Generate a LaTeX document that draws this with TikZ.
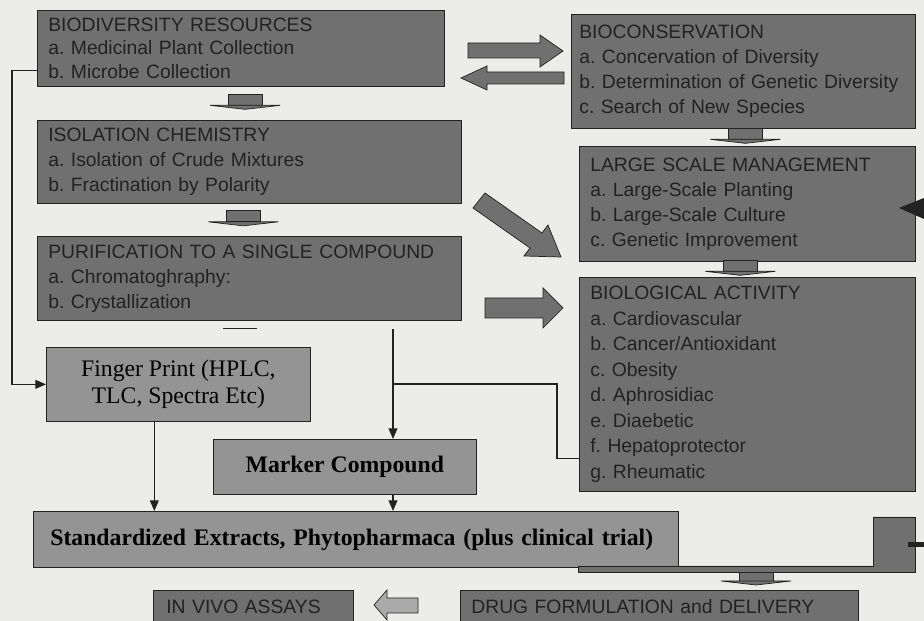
\documentclass[tikz,border=0pt]{standalone}
\usepackage{fontspec}
\setmainfont{Liberation Serif}
\setsansfont{Liberation Sans}
\usetikzlibrary{
    arrows.meta,
    calc,
    positioning
}

\definecolor{paper}{RGB}{236,236,234}
\definecolor{boxdark}{RGB}{112,112,112}
\definecolor{boxlight}{RGB}{148,148,148}
\definecolor{arrowlight}{RGB}{170,170,170}
\definecolor{ink}{RGB}{34,34,34}

\tikzset{
    panel/.style={draw=ink, fill=boxdark, text=ink, anchor=north west, align=left,
        inner xsep=0.22cm, inner ysep=0pt, font=\sffamily\frenchspacing\fontsize{11}{14.2}\selectfont},
    plate/.style={draw=ink, fill=boxlight, text=black, anchor=north west, align=center,
        inner sep=0pt, font=\bfseries\fontsize{13.5}{15.5}\selectfont},
    link/.style={draw=ink, semithick, -{Triangle[length=6pt,width=5pt]}},
    wire/.style={draw=ink, semithick},
    fat/.style={draw=ink, fill=boxdark, line join=miter},
    flatdown/.pic={
        \draw[fat] (-17,-9) rectangle (17,2);
        \draw[fat] (-35,2) -- (35,2) -- (0,6) -- cycle;
    }
}

\begin{document}
\begin{tikzpicture}[x=0.02cm,y=-0.02cm]

% Page
\useasboundingbox (0,0) rectangle (924,621);
\fill[paper] (0,0) rectangle (924,621);

% Left column
\node[panel, text width=7.70cm, minimum height=1.52cm, font=\sffamily\frenchspacing\fontsize{11}{13.4}\selectfont] (bio) at (37,10)
    {BIODIVERSITY RESOURCES\\a. Medicinal Plant Collection\\b. Microbe Collection};
\node[panel, text width=8.04cm, minimum height=1.66cm] (iso) at (37,120)
    {ISOLATION CHEMISTRY\\a. Isolation of Crude Mixtures\\b. Fractination by Polarity};
\node[panel, text width=8.04cm, minimum height=1.68cm] (pur) at (37,236)
    {PURIFICATION TO A SINGLE COMPOUND\\a. Chromatoghraphy:\\b. Crystallization};

% Right column
\node[panel, text width=6.56cm, inner xsep=0.16cm, minimum height=2.28cm] (cons) at (571,14)
    {BIOCONSERVATION\\a. Concervation of Diversity\\b. Determination of Genetic Diversity\\c. Search of New Species};
\node[panel, text width=6.28cm, minimum height=2.30cm] (large) at (579,146)
    {LARGE SCALE MANAGEMENT\\a. Large-Scale Planting\\b. Large-Scale Culture\\c. Genetic Improvement};
\node[panel, text width=6.28cm, minimum height=4.28cm, font=\sffamily\frenchspacing\fontsize{11}{14.5}\selectfont] (bioact) at (579,277)
    {BIOLOGICAL ACTIVITY\\a. Cardiovascular\\b. Cancer/Antioxidant\\c. Obesity\\d. Aphrosidiac\\e. Diaebetic\\f. Hepatoprotector\\g. Rheumatic};

% Standardization
\node[plate, minimum width=5.28cm, minimum height=1.48cm, font=\fontsize{13.5}{15.5}\selectfont] (finger) at (46,347)
    {Finger Print (HPLC,\\TLC, Spectra Etc)};
\node[plate, minimum width=5.26cm, minimum height=1.10cm] (marker) at (213,439) {Marker Compound};
\node[plate, text width=12.22cm, inner xsep=0.34cm, minimum height=1.12cm, align=left] (std) at (33,511)
    {Standardized Extracts, Phytopharmaca (plus clinical trial)};

% Bottom row
\node[panel, text width=3.48cm, minimum height=0.64cm, inner xsep=0.26cm] (invivo) at (153,590) {IN VIVO ASSAYS};
\node[panel, text width=7.52cm, minimum height=0.64cm] (drug) at (460,590) {DRUG FORMULATION and DELIVERY};

% Flat down arrows
\path ($(bio.south)!.5!(iso.north)$) pic {flatdown};
\path ($(iso.south)!.5!(pur.north)$) ++(-6,0) pic {flatdown};
\path ($(cons.south)!.5!(large.north)$) pic {flatdown};
\path ($(large.south)!.5!(bioact.north)$) ++(-7,0) pic {flatdown};
\path (756,579) pic {flatdown};
\draw[wire] ($(pur.south)+(-26,8)$) -- ++(34,0);

% Block arrows
\draw[fat] (468,43) -- (540,43) -- (540,35) -- (563,51) -- (540,67) -- (540,58) -- (468,58) -- cycle;
\draw[fat] (564,72) -- (487,72) -- (487,66) -- (461,78) -- (487,90) -- (487,84) -- (564,84) -- cycle;
\draw[fat] (485,193) -- (542,233) -- (548,225) -- (561,257) -- (524,256) -- (530,248) -- (473,208) -- cycle;
\draw[fat] (485,298) -- (543,298) -- (543,288) -- (563,308) -- (543,328) -- (543,318) -- (485,318) -- cycle;
\draw[fat, fill=arrowlight] (418,598) -- (387,598) -- (387,590) -- (374,605) -- (387,620) -- (387,613) -- (418,613) -- cycle;

% Cropped return path on the right
\draw[fat] (578,566) -- (873,566) -- (873,517) -- (915,517) -- (915,572) -- (578,572) -- cycle;
\draw[ink, line width=0.1cm] (908,545) -- (924,545);
\fill[ink] (899,208) -- (924,198) -- (924,219) -- cycle;

% Connectors
\draw[link] ($(bio.south west)+(0,-16)$) -- ++(-25,0) |- (finger.west);
\coordinate (split) at (393,329);
\draw[link] (split) -- (split |- marker.north);
\coordinate (tee) at (393,384);
\draw[wire] (tee) -| ($(bioact.west)+(-22,74)$) -- ++(22,0);
\draw[link] (finger.south) ++(-24,0) coordinate (fdrop) -- (fdrop |- std.north);
\draw[link] (split |- marker.south) -- (split |- std.north);

\end{tikzpicture}
\end{document}
